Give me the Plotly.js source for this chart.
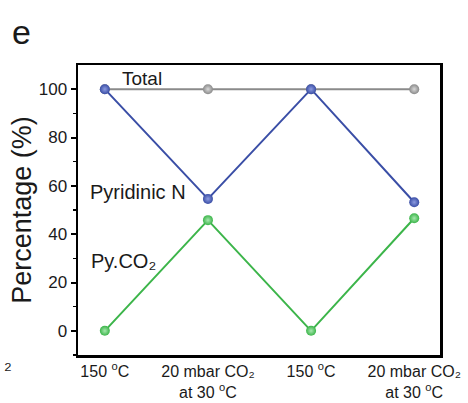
<!DOCTYPE html>
<html>
<head>
<meta charset="utf-8">
<script src="https://cdn.plot.ly/plotly-3.0.1.min.js"></script>
<style>html,body{margin:0;padding:0;background:#fff;}#chart{width:468px;height:403px;}</style>
</head>
<body>
<div id="chart"></div>
<script>
const xIndex = [0, 1, 2, 3];
const xLabels = ["150 <sup>o</sup>C", "20 mbar CO₂<br>at 30 <sup>o</sup>C", "150 <sup>o</sup>C", "20 mbar CO₂<br>at 30 <sup>o</sup>C"];
const totalVals = [100, 100, 100, 100];
const pyridinicVals = [100, 54.6, 100, 53.2];
const pyco2Vals = [0, 45.8, 0, 46.6];
const yTicks = [0, 20, 40, 60, 80, 100];

const font = "Liberation Sans, Arial, Helvetica, sans-serif";

function series(y, color, light) {
  return {
    x: xIndex, y: y, type: 'scatter', mode: 'lines+markers',
    line: {color: color, width: 2},
    marker: {size: 10, color: color, gradient: {type: 'radial', color: light}},
    cliponaxis: false, hoverinfo: 'none'
  };
}

const data = [
  series(totalVals, '#8a8a8a', '#d8d8d8'),
  series(pyridinicVals, '#3a4ea6', '#8c9be0'),
  series(pyco2Vals, '#3cb54a', '#a6e8ae')
];

const layout = {
  width: 468, height: 403,
  margin: {l: 78, r: 28, t: 65, b: 48},
  paper_bgcolor: '#fff', plot_bgcolor: '#fff',
  showlegend: false,
  font: {family: font, size: 17, color: '#1a1a1a'},
  xaxis: {
    range: [-0.26, 3.25], tickvals: xIndex, ticktext: xLabels,
    showgrid: false, zeroline: false, ticks: '',
    showline: true, mirror: true, linecolor: '#000', linewidth: 2.5,
    tickfont: {size: 16}
  },
  yaxis: {
    range: [-10, 110], tickvals: yTicks,
    showgrid: false, zeroline: false,
    ticks: 'outside', ticklen: 5, tickwidth: 2, tickcolor: '#000',
    showline: true, mirror: true, linecolor: '#000', linewidth: 2.5,
    minor: {tickvals: [-10, 10, 30, 50, 70, 90], ticks: 'outside', ticklen: 3, tickwidth: 1.5, tickcolor: '#000'},
    title: {text: 'Percentage (%)', font: {size: 27}, standoff: 0},
    tickfont: {size: 17}
  },
  annotations: [
    {text: 'e', xref: 'paper', yref: 'paper', x: -0.155, y: 1.115, xanchor: 'center', yanchor: 'middle', showarrow: false, font: {size: 34, color: '#1a1a1a'}},
    {text: 'Total', x: 0.358, y: 104.5, showarrow: false, font: {size: 19}},
    {text: 'Pyridinic N', x: 0.32, y: 57.5, showarrow: false, font: {size: 20}},
    {text: 'Py.CO₂', x: 0.18, y: 29, showarrow: false, font: {size: 20}},
    {text: '₂', xref: 'paper', yref: 'paper', x: -0.21, y: -0.07, xanchor: 'left', showarrow: false, font: {size: 20}}
  ]
};

Plotly.newPlot('chart', data, layout, {staticPlot: true, displayModeBar: false});
</script>
</body>
</html>
